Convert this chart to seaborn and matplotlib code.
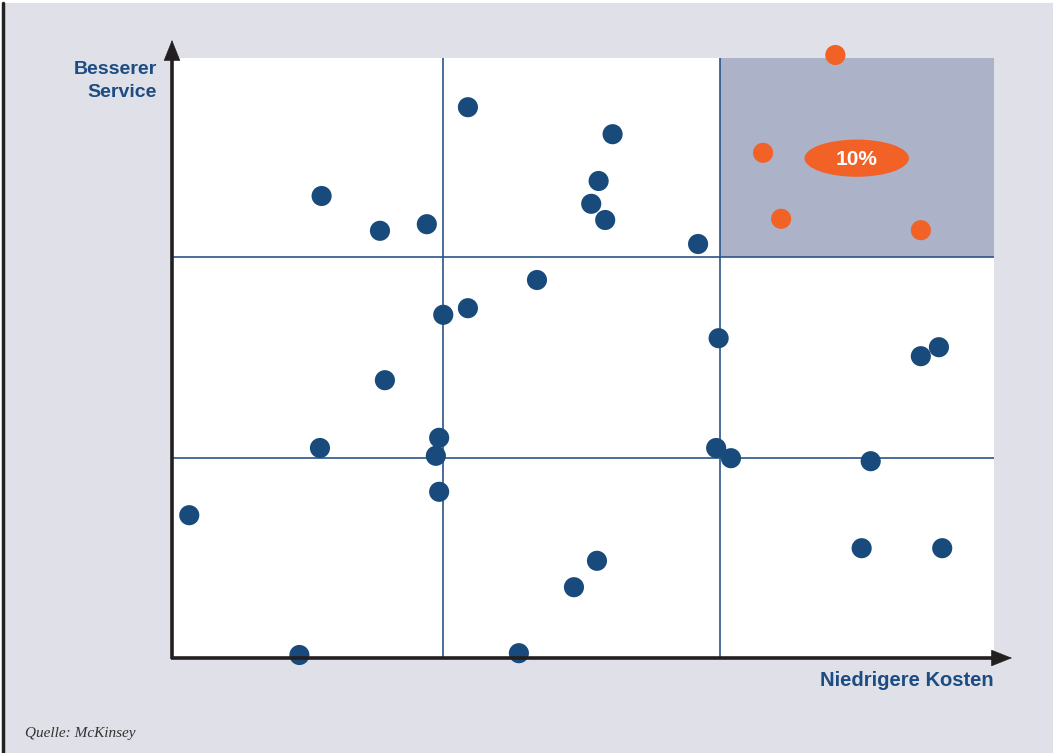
import matplotlib
matplotlib.use("Agg")
import matplotlib.pyplot as plt
from matplotlib.patches import Rectangle, Ellipse
import seaborn as sns
import pandas as pd

# Data (0-100 scale on both axes)
blue_x = [36.0, 53.6, 18.2, 51.9, 51.0, 52.7, 25.3, 31.0, 64.0, 44.4, 36.0, 33.0,
          66.5, 91.1, 93.3, 25.9, 32.5, 18.0, 32.1, 66.2, 68.0, 85.0, 32.5, 2.1,
          83.9, 93.7, 51.7, 48.9, 15.5, 42.2]
blue_y = [91.8, 87.3, 77.0, 79.5, 75.7, 73.0, 71.2, 72.3, 69.0, 63.0, 58.3, 57.2,
          53.3, 50.3, 51.8, 46.3, 36.7, 35.0, 33.7, 35.0, 33.3, 32.8, 27.7, 23.8,
          18.3, 18.3, 16.2, 11.8, 0.5, 0.8]
orange_x = [80.7, 71.9, 74.1, 91.1]
orange_y = [100.5, 84.2, 73.2, 71.3]
grid_x = [33.0, 66.7]
grid_y = [33.3, 66.8]
label_pct = "10%"
x_label = "Niedrigere Kosten"
y_label = "Besserer\nService"
source = "Quelle: McKinsey"

BLUE = "#194a7c"
ORANGE = "#f26125"
BG = "#dfe0e8"
SHADE = "#acb2c8"
TXT = "#1c4c82"
AXC = "#231f20"

df = pd.DataFrame({
    "x": blue_x + orange_x,
    "y": blue_y + orange_y,
    "grp": ["b"] * len(blue_x) + ["o"] * len(orange_x),
})

sns.set_style("white")
plt.rcParams["font.family"] = ["Liberation Sans", "DejaVu Sans"]

W, H = 1056, 753
fig = plt.figure(figsize=(W / 100, H / 100), dpi=100, facecolor="white")
fig.patches.append(Rectangle((3 / W, 0), 1050 / W, 750 / H, transform=fig.transFigure,
                             facecolor=BG, edgecolor="none", zorder=-10))
fig.lines.append(plt.Line2D([3 / W, 3 / W], [0, 750 / H], transform=fig.transFigure,
                            color="#222222", lw=2.5, zorder=-9))

ax = fig.add_axes([172 / W, (H - 658) / H, 822 / W, 600 / H])
ax.set_zorder(1)
ax.set_facecolor("white")
ax.set_xlim(0, 100)
ax.set_ylim(0, 100)
for s in ax.spines.values():
    s.set_visible(False)
ax.set_xticks([])
ax.set_yticks([])

ax.add_patch(Rectangle((grid_x[1], grid_y[1]), 100 - grid_x[1], 100 - grid_y[1],
                       facecolor=SHADE, edgecolor="none", zorder=1))
for g in grid_x:
    ax.axvline(g, color="#2a5586", lw=1.2, zorder=2)
for g in grid_y:
    ax.axhline(g, color="#2a5586", lw=1.2, zorder=2)

sns.scatterplot(data=df, x="x", y="y", hue="grp", palette={"b": BLUE, "o": ORANGE},
                s=210, edgecolor="none", legend=False, ax=ax, zorder=5, clip_on=False)
ax.set_xlabel("")
ax.set_ylabel("")

ax.add_patch(Ellipse((83.3, 83.3), 12.7, 6.2, facecolor=ORANGE, edgecolor="none", zorder=4))
ax.text(83.3, 83.1, label_pct, ha="center", va="center", color="white",
        fontsize=15, fontweight="bold", zorder=6)

# axes lines
x0, y0 = 172 / W, (H - 658) / H
fig.lines.append(plt.Line2D([x0 - 1.2 / W, 998 / W], [y0, y0], transform=fig.transFigure,
                            color=AXC, lw=2.6, solid_capstyle="butt", zorder=10))
fig.lines.append(plt.Line2D([x0, x0], [y0 - 1.2 / H, (H - 55) / H], transform=fig.transFigure,
                            color=AXC, lw=2.6, solid_capstyle="butt", zorder=10))
# arrow heads
head = dict(arrowstyle="-|>,head_length=1.0,head_width=0.4", mutation_scale=14,
            color=AXC, lw=0.5, shrinkA=0, shrinkB=0)
fig.add_artist(matplotlib.patches.FancyArrowPatch((990 / W, y0), (1012 / W, y0),
                                                  transform=fig.transFigure, zorder=11, **head))
fig.add_artist(matplotlib.patches.FancyArrowPatch((x0, (H - 62) / H), (x0, (H - 40) / H),
                                                  transform=fig.transFigure, zorder=11, **head))

fig.text(157 / W, (H - 81) / H, y_label, ha="right", va="center", color=TXT,
         fontsize=14, fontweight="bold", linespacing=1.5)
fig.text(994 / W, (H - 681) / H, x_label, ha="right", va="center", color=TXT,
         fontsize=14.5, fontweight="bold")
fig.text(25 / W, (H - 734) / H, source, ha="left", va="center", color="#333333",
         fontsize=11, style="italic", family=["Liberation Serif", "DejaVu Serif"])

fig.savefig("out.png", dpi=100, facecolor=fig.get_facecolor())
